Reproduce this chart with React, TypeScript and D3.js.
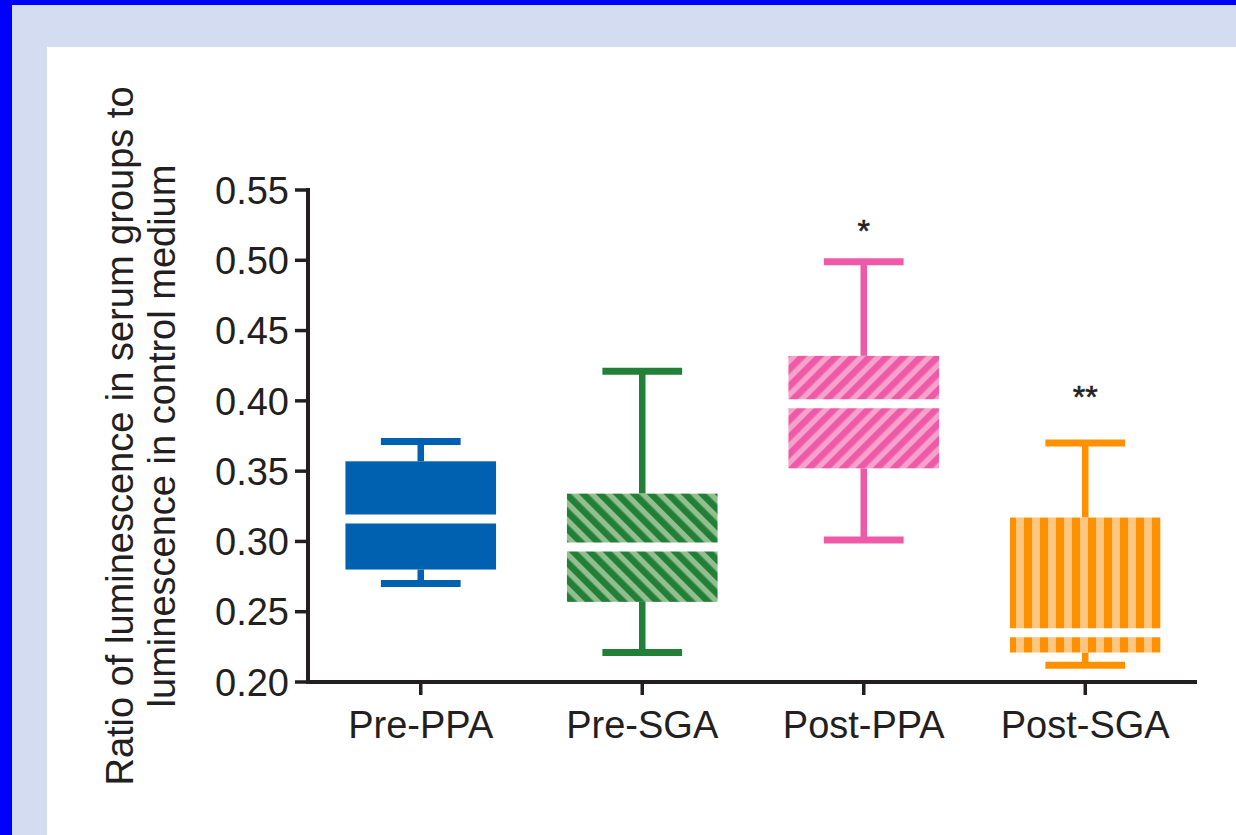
import React from "react";
import * as d3 from "d3";

const categories = ["Pre-PPA", "Pre-SGA", "Post-PPA", "Post-SGA"];
const whiskerLow = [0.27, 0.221, 0.301, 0.212];
const q1 = [0.28, 0.257, 0.352, 0.221];
const median = [0.316, 0.296, 0.398, 0.235];
const q3 = [0.357, 0.334, 0.432, 0.317];
const whiskerHigh = [0.371, 0.421, 0.499, 0.37];
const significance = ["", "", "*", "**"];
const significanceAt = [0, 0, 0.523, 0.405];
const yTicks = [0.2, 0.25, 0.3, 0.35, 0.4, 0.45, 0.5, 0.55];

const darkColors = ["#0061b0", "#217f38", "#ee5aa8", "#ff9100"];
const lightColors = ["#0061b0", "#93bf8f", "#f5a3cc", "#ffc680"];
const fills = ["solid", "back", "fwd", "vert"];

const W = 1236;
const H = 835;
const ink = "#231f20";
const font = "'Liberation Sans', Arial, Helvetica, sans-serif";

export default function App() {
  const x = d3.scaleBand<string>().domain(categories).range([310, 1196]).padding(0);
  const y = d3.scaleLinear().domain([0.2, 0.55]).range([682, 190]);
  const bw = x.bandwidth();
  const boxW = bw * 0.68;
  const capW = bw * 0.36;
  const fmt = d3.format(".2f");

  return (
    <svg
      width={W}
      height={H}
      style={{ position: "absolute", left: 0, top: 0, display: "block" }}
      fontFamily={font}
    >
      <defs>
        {fills.map((f, i) => {
          if (f === "solid") return null;
          const period = f === "vert" ? 16 : 12;
          const rot = f === "back" ? -45 : f === "fwd" ? 45 : 0;
          return (
            <pattern
              key={f}
              id={`pat-${i}`}
              patternUnits="userSpaceOnUse"
              width={period}
              height={period}
              patternTransform={`rotate(${rot})`}
            >
              <rect x={0} y={0} width={period} height={period} fill={lightColors[i]} />
              <rect x={0} y={0} width={period * (f === "vert" ? 0.5 : 0.55)} height={period} fill={darkColors[i]} />
            </pattern>
          );
        })}
      </defs>

      {/* frame */}
      <rect x={0} y={0} width={W} height={H} fill="#0000ff" />
      <rect x={12} y={5} width={W - 12} height={H - 5} fill="#d4dcf2" />
      <rect x={47} y={47} width={W - 47} height={H - 47} fill="#ffffff" />

      {/* boxes */}
      {categories.map((c, i) => {
        const cx = (x(c) as number) + bw / 2;
        const col = darkColors[i];
        const fill = fills[i] === "solid" ? col : `url(#pat-${i})`;
        return (
          <g key={c}>
            <line x1={cx} x2={cx} y1={y(whiskerHigh[i])} y2={y(q3[i])} stroke={col} strokeWidth={6.5} />
            <line x1={cx} x2={cx} y1={y(q1[i])} y2={y(whiskerLow[i])} stroke={col} strokeWidth={6.5} />
            <line x1={cx - capW / 2} x2={cx + capW / 2} y1={y(whiskerHigh[i])} y2={y(whiskerHigh[i])} stroke={col} strokeWidth={7} />
            <line x1={cx - capW / 2} x2={cx + capW / 2} y1={y(whiskerLow[i])} y2={y(whiskerLow[i])} stroke={col} strokeWidth={7} />
            <rect x={cx - boxW / 2} y={y(q3[i])} width={boxW} height={y(q1[i]) - y(q3[i])} fill={fill} />
            <line x1={cx - boxW / 2 - 1} x2={cx + boxW / 2 + 1} y1={y(median[i])} y2={y(median[i])} stroke="#ffffff" strokeWidth={9} />
            {significance[i] && (
              <text x={cx} y={y(significanceAt[i]) + 14} textAnchor="middle" fontSize={32} fill={ink} stroke={ink} strokeWidth={0.6}>
                {significance[i]}
              </text>
            )}
          </g>
        );
      })}

      {/* y axis */}
      <line x1={308} x2={308} y1={y(0.55) - 2} y2={y(0.2) + 2} stroke={ink} strokeWidth={4} />
      {yTicks.map((t) => (
        <g key={t}>
          <line x1={295} x2={308} y1={y(t)} y2={y(t)} stroke={ink} strokeWidth={3.5} />
          <text x={289} y={y(t)} dy="0.36em" textAnchor="end" fontSize={38} fill={ink}>
            {fmt(t)}
          </text>
        </g>
      ))}

      {/* x axis */}
      <line x1={306} x2={1197} y1={682} y2={682} stroke={ink} strokeWidth={4} />
      {categories.map((c) => {
        const cx = (x(c) as number) + bw / 2;
        return (
          <g key={c}>
            <line x1={cx} x2={cx} y1={682} y2={695} stroke={ink} strokeWidth={3.5} />
            <text x={cx} y={738} textAnchor="middle" fontSize={38} fill={ink}>
              {c}
            </text>
          </g>
        );
      })}

      {/* y title */}
      <text transform={`translate(133, ${(y(0.55) + y(0.2)) / 2}) rotate(-90)`} textAnchor="middle" fontSize={38} fill={ink}>
        Ratio of luminescence in serum groups to
      </text>
      <text transform={`translate(175, ${(y(0.55) + y(0.2)) / 2}) rotate(-90)`} textAnchor="middle" fontSize={38} fill={ink}>
        luminescence in control medium
      </text>
    </svg>
  );
}
